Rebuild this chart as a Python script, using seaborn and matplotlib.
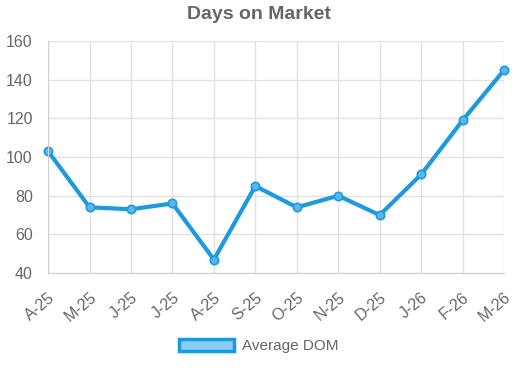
import matplotlib
matplotlib.use("Agg")
import matplotlib.pyplot as plt
from matplotlib.patches import Patch
import seaborn as sns
import pandas as pd

# 数据
months = ["A-25", "M-25", "J-25", "J-25", "A-25", "S-25", "O-25", "N-25", "D-25", "J-26", "F-26", "M-26"]
avg_dom = [103, 74, 73, 76, 47, 85, 74, 80, 70, 91, 119, 145]

df = pd.DataFrame({"idx": range(len(months)), "dom": avg_dom})

sns.set_style("whitegrid")
plt.rcParams['font.family'] = ['Liberation Sans', 'DejaVu Sans']

line_color = "#1b9ae0"
grid_color = "#e1e1e1"
text_color = "#666666"

fig = plt.figure(figsize=(5.17, 3.70), dpi=100)
ax = fig.add_axes([0.093, 0.262, 0.882, 0.627])

sns.lineplot(data=df, x="idx", y="dom", ax=ax, color=line_color, linewidth=3,
             marker="o", markersize=6, markerfacecolor="#5cb6ea",
             markeredgecolor=line_color, markeredgewidth=1.2)
for ln in ax.lines:
    ln.set_clip_on(False)

ax.set_xlim(0, len(months) - 1)
ax.set_ylim(40, 160)
ax.set_yticks(range(40, 161, 20))
ax.set_xticks(range(len(months)))
ax.set_xticklabels(months, rotation=40, ha="right", rotation_mode="anchor")
ax.set_xlabel("")
ax.set_ylabel("")

ax.grid(True, color=grid_color, linewidth=1)
for s in ax.spines.values():
    s.set_visible(False)
ax.spines["left"].set_visible(True)
ax.spines["bottom"].set_visible(True)
ax.spines["left"].set_color("#d0d0d0")
ax.spines["bottom"].set_color("#d0d0d0")
ax.tick_params(axis="both", length=9, color=grid_color, labelcolor=text_color,
               labelsize=11.5, pad=3, width=1)
ax.tick_params(axis="y", pad=2)

fig.suptitle("Days on Market", x=0.5, y=0.985, fontsize=14, fontweight="bold", color=text_color)

handle = Patch(facecolor="#8dcdf1", edgecolor=line_color, linewidth=2.5, label="Average DOM")
fig.legend(handles=[handle], loc="center", bbox_to_anchor=(0.5, 0.065), frameon=False,
           fontsize=11, labelcolor=text_color, handlelength=3.6, handleheight=0.9,
           handletextpad=0.5)

fig.savefig("out.png", dpi=100)
